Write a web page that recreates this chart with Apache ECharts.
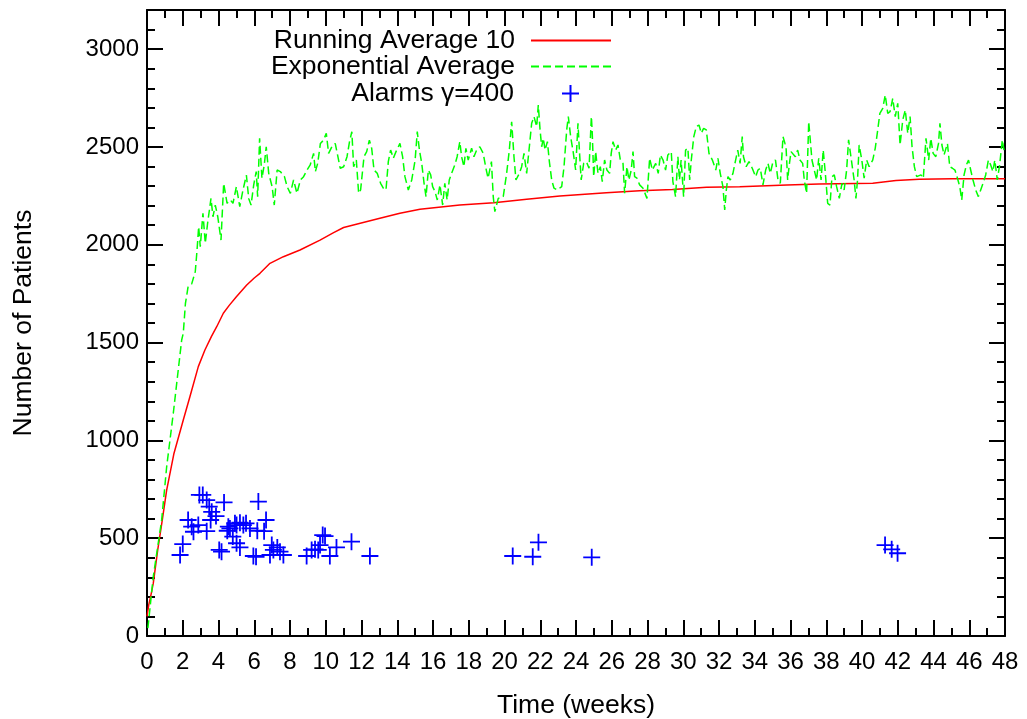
<!DOCTYPE html>
<html>
<head>
<meta charset="utf-8">
<script src="https://cdn.jsdelivr.net/npm/echarts@6/dist/echarts.min.js"></script>
<style>html,body{margin:0;padding:0;background:#fff}#c{width:1027px;height:719px}</style>
</head>
<body>
<div id="c"></div>
<script>
// ---- data (weeks, patients) ----
const runX = [0,0.1,0.2,0.35,0.6,0.85,1.1,1.5,2.03,2.4,2.87,3.24,3.6,3.9,4.27,4.6,5.0,5.58,6.0,6.32,6.88,7.63,8.56,9.68,10.44,11.0,11.93,13.03,14.15,15.27,17.5,19.4,21.24,23.1,24.5,25.7,27.56,29.4,31.3,33.16,35.8,37.6,40.6,41.9,43.2,45.07,48];
const runY = [100,160,200,269,440,590,746,930,1104,1223,1377,1462,1530,1581,1650,1690,1734,1794,1830,1854,1905,1939,1973,2024,2062,2088,2110,2135,2161,2181,2203,2215,2232,2249,2258,2266,2276,2283,2294,2297,2305,2310,2314,2328,2335,2338,2338];

const expX = [0.05,0.35,0.82,1.1,1.47,1.94,2.03,2.15,2.3,2.5,2.7,2.8,2.89,2.98,3.13,3.26,3.39,3.58,3.69,3.82,3.96,4.14,4.29,4.48,4.66,4.81,5.0,5.19,5.37,5.56,5.69,5.82,5.97,6.11,6.19,6.3,6.43,6.56,6.67,6.81,7.0,7.12,7.28,7.46,7.69,7.84,8.02,8.2,8.39,8.58,8.76,8.95,9.13,9.32,9.42,9.55,9.7,9.88,10.03,10.16,10.34,10.53,10.66,10.81,11.0,11.19,11.33,11.46,11.56,11.71,11.84,11.95,12.14,12.29,12.44,12.57,12.7,12.88,13.07,13.22,13.37,13.5,13.63,13.78,13.93,14.15,14.3,14.43,14.62,14.81,15.0,15.12,15.24,15.37,15.5,15.61,15.74,15.87,15.98,16.11,16.24,16.39,16.54,16.66,16.79,16.91,17.04,17.22,17.35,17.5,17.6,17.73,17.84,17.97,18.16,18.29,18.44,18.62,18.81,18.96,19.08,19.27,19.37,19.46,19.65,19.93,20.12,20.27,20.4,20.53,20.64,20.83,20.96,21.09,21.24,21.39,21.52,21.65,21.8,21.89,21.99,22.08,22.17,22.27,22.4,22.51,22.64,22.77,22.95,23.2,23.33,23.48,23.57,23.7,23.85,23.98,24.11,24.2,24.29,24.43,24.58,24.73,24.86,24.91,24.99,25.1,25.23,25.36,25.47,25.6,25.73,25.88,25.97,26.07,26.22,26.35,26.48,26.63,26.72,26.85,26.96,27.09,27.19,27.28,27.41,27.56,27.75,27.97,28.12,28.27,28.46,28.6,28.72,28.87,29.01,29.14,29.33,29.42,29.57,29.7,29.79,29.88,30.02,30.13,30.26,30.36,30.45,30.59,30.73,30.88,31.01,31.14,31.29,31.44,31.63,31.82,31.94,32.07,32.22,32.32,32.41,32.5,32.63,32.78,32.93,33.05,33.18,33.3,33.37,33.52,33.68,33.86,34.05,34.18,34.31,34.46,34.61,34.74,34.87,35.02,35.16,35.3,35.43,35.58,35.69,35.75,35.84,35.93,36.03,36.12,36.27,36.4,36.53,36.68,36.77,36.9,37.02,37.09,37.2,37.33,37.46,37.58,37.71,37.83,37.95,38.08,38.21,38.32,38.45,38.58,38.73,38.88,39.0,39.14,39.25,39.38,39.56,39.66,39.75,39.84,39.99,40.12,40.26,40.4,40.6,40.74,40.88,41.0,41.16,41.3,41.44,41.57,41.72,41.86,42.0,42.13,42.28,42.42,42.56,42.69,42.8,42.93,43.06,43.17,43.3,43.43,43.58,43.73,43.85,43.98,44.13,44.28,44.36,44.47,44.59,44.78,44.91,45.06,45.2,45.34,45.47,45.58,45.71,45.84,45.96,46.08,46.21,46.36,46.51,46.64,46.77,46.92,47.07,47.2,47.32,47.43,47.57,47.7,47.85,47.94];
const expY = [40,303,593,865,1138,1513,1548,1700,1786,1800,1862,1973,2092,1990,2161,2007,2110,2237,2143,2203,2143,2024,2314,2212,2229,2212,2297,2195,2280,2356,2237,2203,2306,2374,2246,2544,2340,2408,2501,2365,2297,2203,2382,2374,2348,2297,2263,2331,2263,2331,2348,2382,2408,2467,2374,2416,2518,2535,2570,2467,2501,2518,2459,2391,2399,2450,2527,2578,2399,2433,2263,2280,2450,2476,2535,2493,2382,2365,2314,2289,2280,2425,2484,2442,2476,2518,2450,2348,2280,2331,2433,2578,2484,2416,2314,2246,2382,2357,2297,2272,2229,2306,2203,2314,2229,2331,2365,2408,2450,2527,2450,2399,2493,2433,2493,2450,2484,2501,2467,2391,2340,2425,2246,2169,2237,2246,2365,2484,2629,2450,2331,2365,2399,2467,2365,2501,2621,2655,2604,2714,2587,2501,2544,2484,2527,2425,2331,2289,2280,2297,2399,2587,2655,2553,2470,2382,2621,2467,2331,2416,2425,2391,2655,2570,2348,2476,2365,2399,2323,2433,2382,2365,2467,2527,2484,2510,2433,2416,2263,2399,2331,2382,2476,2348,2340,2306,2289,2237,2442,2382,2416,2365,2459,2433,2382,2459,2476,2323,2246,2450,2331,2433,2246,2484,2493,2331,2433,2553,2604,2612,2570,2595,2587,2467,2433,2382,2442,2365,2297,2178,2280,2348,2331,2365,2433,2484,2416,2553,2450,2399,2425,2391,2348,2382,2391,2306,2382,2416,2365,2425,2433,2331,2314,2553,2518,2501,2331,2408,2476,2484,2450,2484,2433,2416,2331,2263,2629,2553,2433,2382,2331,2442,2331,2484,2365,2212,2203,2348,2357,2297,2237,2314,2280,2382,2536,2450,2331,2237,2331,2510,2433,2340,2433,2399,2433,2493,2587,2672,2697,2766,2672,2680,2748,2655,2723,2510,2638,2689,2570,2655,2501,2399,2348,2340,2357,2340,2544,2433,2544,2467,2450,2518,2621,2510,2459,2518,2399,2391,2382,2340,2297,2229,2357,2408,2433,2382,2331,2280,2246,2280,2314,2357,2433,2408,2374,2433,2331,2408,2536,2484];

const alarmX = [1.85,2.0,2.3,2.5,2.6,2.87,2.93,3.12,3.34,3.48,3.62,3.56,3.34,4.04,4.17,3.86,4.31,4.55,4.64,4.49,4.92,5.01,5.2,5.39,5.54,4.8,5.01,5.2,5.76,6.17,5.95,6.23,6.66,6.55,6.1,6.98,7.07,7.29,7.44,6.88,7.63,8.93,9.21,9.4,9.68,9.83,9.96,9.58,10.23,10.6,11.44,12.47,20.46,21.58,21.9,24.88,41.29,41.66,41.99];
const alarmY = [414,470,593,559,533,567,721,721,695,661,635,593,536,440,431,613,683,559,550,538,576,567,579,567,576,508,474,453,550,538,409,687,593,536,405,465,440,453,431,414,414,409,440,443,465,516,511,440,409,453,482,409,409,405,479,402,465,443,423];

const xTicks = {min: 0, max: 48, major: 2, minor: 1};
const yTicks = {min: 0, max: 3200, major: 500, minor: 100};

const FONT = 'Liberation Sans';
const TICKFS = 24, TEXTFS = 26.5;
const zip = (a, b) => a.map((v, i) => [v, b[i]]);

function xAx(pos, step, len, labels, line) {
  return {
    type: 'value', position: pos, min: xTicks.min, max: xTicks.max, interval: step,
    axisLine: {show: line, onZero: false, lineStyle: {color: '#000', width: 2}},
    axisTick: {show: true, inside: true, length: len, lineStyle: {color: '#000', width: 2}},
    axisLabel: {show: labels, fontSize: TICKFS, color: '#000', fontFamily: FONT, margin: 14},
    splitLine: {show: false},
    name: labels ? 'Time (weeks)' : '', nameLocation: 'middle', nameGap: 56,
    nameTextStyle: {fontSize: TEXTFS, color: '#000', fontFamily: FONT}
  };
}
function yAx(pos, step, len, labels, line) {
  return {
    type: 'value', position: pos, min: yTicks.min, max: yTicks.max, interval: step,
    axisLine: {show: line, onZero: false, lineStyle: {color: '#000', width: 2}},
    axisTick: {show: true, inside: true, length: len, lineStyle: {color: '#000', width: 2}},
    axisLabel: {show: labels, fontSize: TICKFS, color: '#000', fontFamily: FONT, margin: 8,
      formatter: v => (v % yTicks.major === 0 ? String(v) : '')},
    splitLine: {show: false},
    name: labels ? 'Number of Patients' : '', nameLocation: 'middle', nameGap: 110,
    nameTextStyle: {fontSize: TEXTFS, color: '#000', fontFamily: FONT}
  };
}
function leg(item, top, right, w, textPad) {
  return {
    data: [item], right: right, top: top, orient: 'vertical', align: 'right',
    itemWidth: w, itemHeight: 17, selectedMode: false, padding: 0,
    textStyle: {fontSize: TEXTFS, color: '#000', fontFamily: FONT, padding: [0, textPad, 0, 0]}
  };
}

const chart = echarts.init(document.getElementById('c'), null, {renderer: 'canvas'});
chart.setOption({
  animation: false,
  backgroundColor: '#fff',
  textStyle: {fontFamily: FONT},
  grid: {left: 147, right: 22, top: 10, bottom: 83, containLabel: false, outerBoundsMode: 'none'},
  legend: [
    leg({name: 'Running Average 10', itemStyle: {opacity: 0}}, 27, 415, 80, 11),
    leg({name: 'Exponential Average', itemStyle: {opacity: 0}}, 53, 415, 80, 11),
    leg({name: 'Alarms γ=400'}, 80, 447, 17, 43)
  ],
  xAxis: [
    xAx('bottom', xTicks.major, 16, true, true),
    xAx('bottom', xTicks.minor, 8, false, false),
    xAx('top', xTicks.major, 16, false, true),
    xAx('top', xTicks.minor, 8, false, false)
  ],
  yAxis: [
    yAx('left', yTicks.major, 16, true, true),
    yAx('left', yTicks.minor, 8, false, false),
    yAx('right', yTicks.major, 16, false, true),
    yAx('right', yTicks.minor, 8, false, false)
  ],
  series: [
    {name: 'Running Average 10', type: 'line', data: zip(runX, runY), xAxisIndex: 0, yAxisIndex: 0,
     symbol: 'none', showSymbol: false, color: '#ff0000', lineStyle: {color: '#ff0000', width: 1.5}},
    {name: 'Exponential Average', type: 'line', data: zip(expX, expY), xAxisIndex: 0, yAxisIndex: 0,
     symbol: 'none', showSymbol: false, color: '#00ff00', lineStyle: {color: '#00ff00', width: 1.5, type: [8, 4]}},
    {name: 'Alarms γ=400', type: 'scatter', data: zip(alarmX, alarmY), xAxisIndex: 0, yAxisIndex: 0,
     symbol: 'path://M0,10L20,10M10,0L10,20', symbolSize: 17,
     itemStyle: {color: '#0000ff', borderColor: '#0000ff', borderWidth: 1.8, opacity: 1}}
  ]
});
</script>
</body>
</html>
